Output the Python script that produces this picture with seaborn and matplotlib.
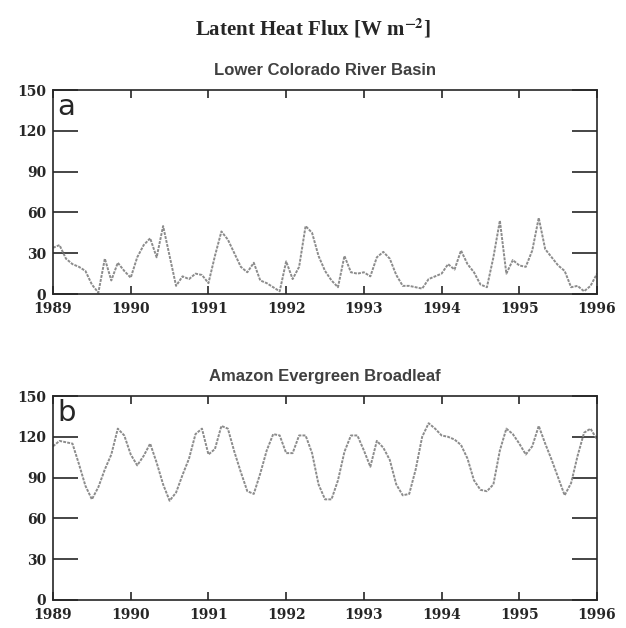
import numpy as np
import pandas as pd
import matplotlib.pyplot as plt
import seaborn as sns

# Monthly latent heat flux values, Jan 1989 .. Jan 1996
MONTHS = pd.date_range("1989-01-01", "1996-01-01", freq="MS")
colorado_lh = [34, 36, 26, 22, 20, 17, 7, 1, 26, 10, 23, 17,
               12, 27, 36, 41, 27, 50, 28, 6, 13, 11, 15, 14,
               8, 28, 46, 40, 30, 20, 16, 23, 10, 8, 5, 2,
               24, 11, 20, 50, 45, 28, 17, 10, 5, 28, 16, 15,
               16, 13, 27, 31, 26, 14, 6, 6, 5, 4, 11, 13,
               15, 22, 18, 32, 22, 16, 7, 5, 27, 54, 15, 25,
               21, 20, 32, 56, 33, 27, 21, 17, 5, 6, 2, 6,
               15]
amazon_lh = [113, 117, 116, 115, 100, 84, 74, 83, 96, 107, 126, 121,
             107, 99, 106, 115, 101, 85, 73, 79, 92, 104, 122, 126,
             107, 111, 128, 126, 109, 94, 80, 78, 93, 110, 122, 121,
             108, 108, 121, 121, 108, 85, 74, 74, 88, 109, 121, 121,
             110, 98, 117, 112, 103, 85, 77, 78, 96, 120, 130, 126,
             121, 120, 118, 114, 104, 88, 81, 80, 85, 110, 126, 122,
             115, 107, 113, 128, 115, 103, 90, 77, 86, 106, 123, 126,
             118]
panel_titles = ["Lower Colorado River Basin", "Amazon Evergreen Broadleaf"]
panel_letters = ["a", "b"]
year_ticks = list(range(1989, 1997))
flux_ticks = [0, 30, 60, 90, 120, 150]

sns.set_style("ticks")
plt.rcParams['font.family'] = ['DejaVu Sans']
plt.rcParams['mathtext.fontset'] = 'stix'

# decimal year for x axis
t = MONTHS.year + (MONTHS.month - 1) / 12.0
df = pd.DataFrame({"year": np.tile(t, 2),
                   "flux": colorado_lh + amazon_lh,
                   "panel": np.repeat(panel_titles, len(MONTHS))})

fig = plt.figure(figsize=(6.26, 6.28), dpi=100)
fig.text(0.5, 0.955, r"Latent Heat Flux [W m$^{\mathbf{-2}}$]", ha="center", va="center",
         fontsize=15, fontweight="bold", family="Liberation Serif", color="0.15")

rects = [[0.0847, 0.5318, 0.869, 0.3248], [0.0847, 0.0446, 0.869, 0.3248]]
for rect, title, letter in zip(rects, panel_titles, panel_letters):
    ax = fig.add_axes(rect)
    sub = df[df["panel"] == title]
    sns.lineplot(data=sub, x="year", y="flux", ax=ax, color="0.55", lw=1.4, ls=(0, (1.5, 0.6)))
    ax.set_xlim(1989, 1996)
    ax.set_ylim(0, 150)
    ax.set_xticks(year_ticks)
    ax.set_yticks(flux_ticks)
    ax.set_xlabel("")
    ax.set_ylabel("")
    ax.tick_params(axis="x", direction="in", length=6, width=1.2, top=True, pad=6)
    ax.tick_params(axis="y", direction="in", length=18, width=1.2, right=True, pad=5)
    for lab in ax.get_xticklabels() + ax.get_yticklabels():
        lab.set_family("DejaVu Serif")
        lab.set_fontweight("bold")
        lab.set_fontsize(10)
    for sp in ax.spines.values():
        sp.set_linewidth(1.2)
    ax.set_title(title, fontsize=12, color="0.25", pad=11, family="Liberation Sans",
                 fontweight="bold")
    ax.text(0.008, 0.985, letter, transform=ax.transAxes, ha="left", va="top", fontsize=21)

fig.savefig("out.png", dpi=100)
